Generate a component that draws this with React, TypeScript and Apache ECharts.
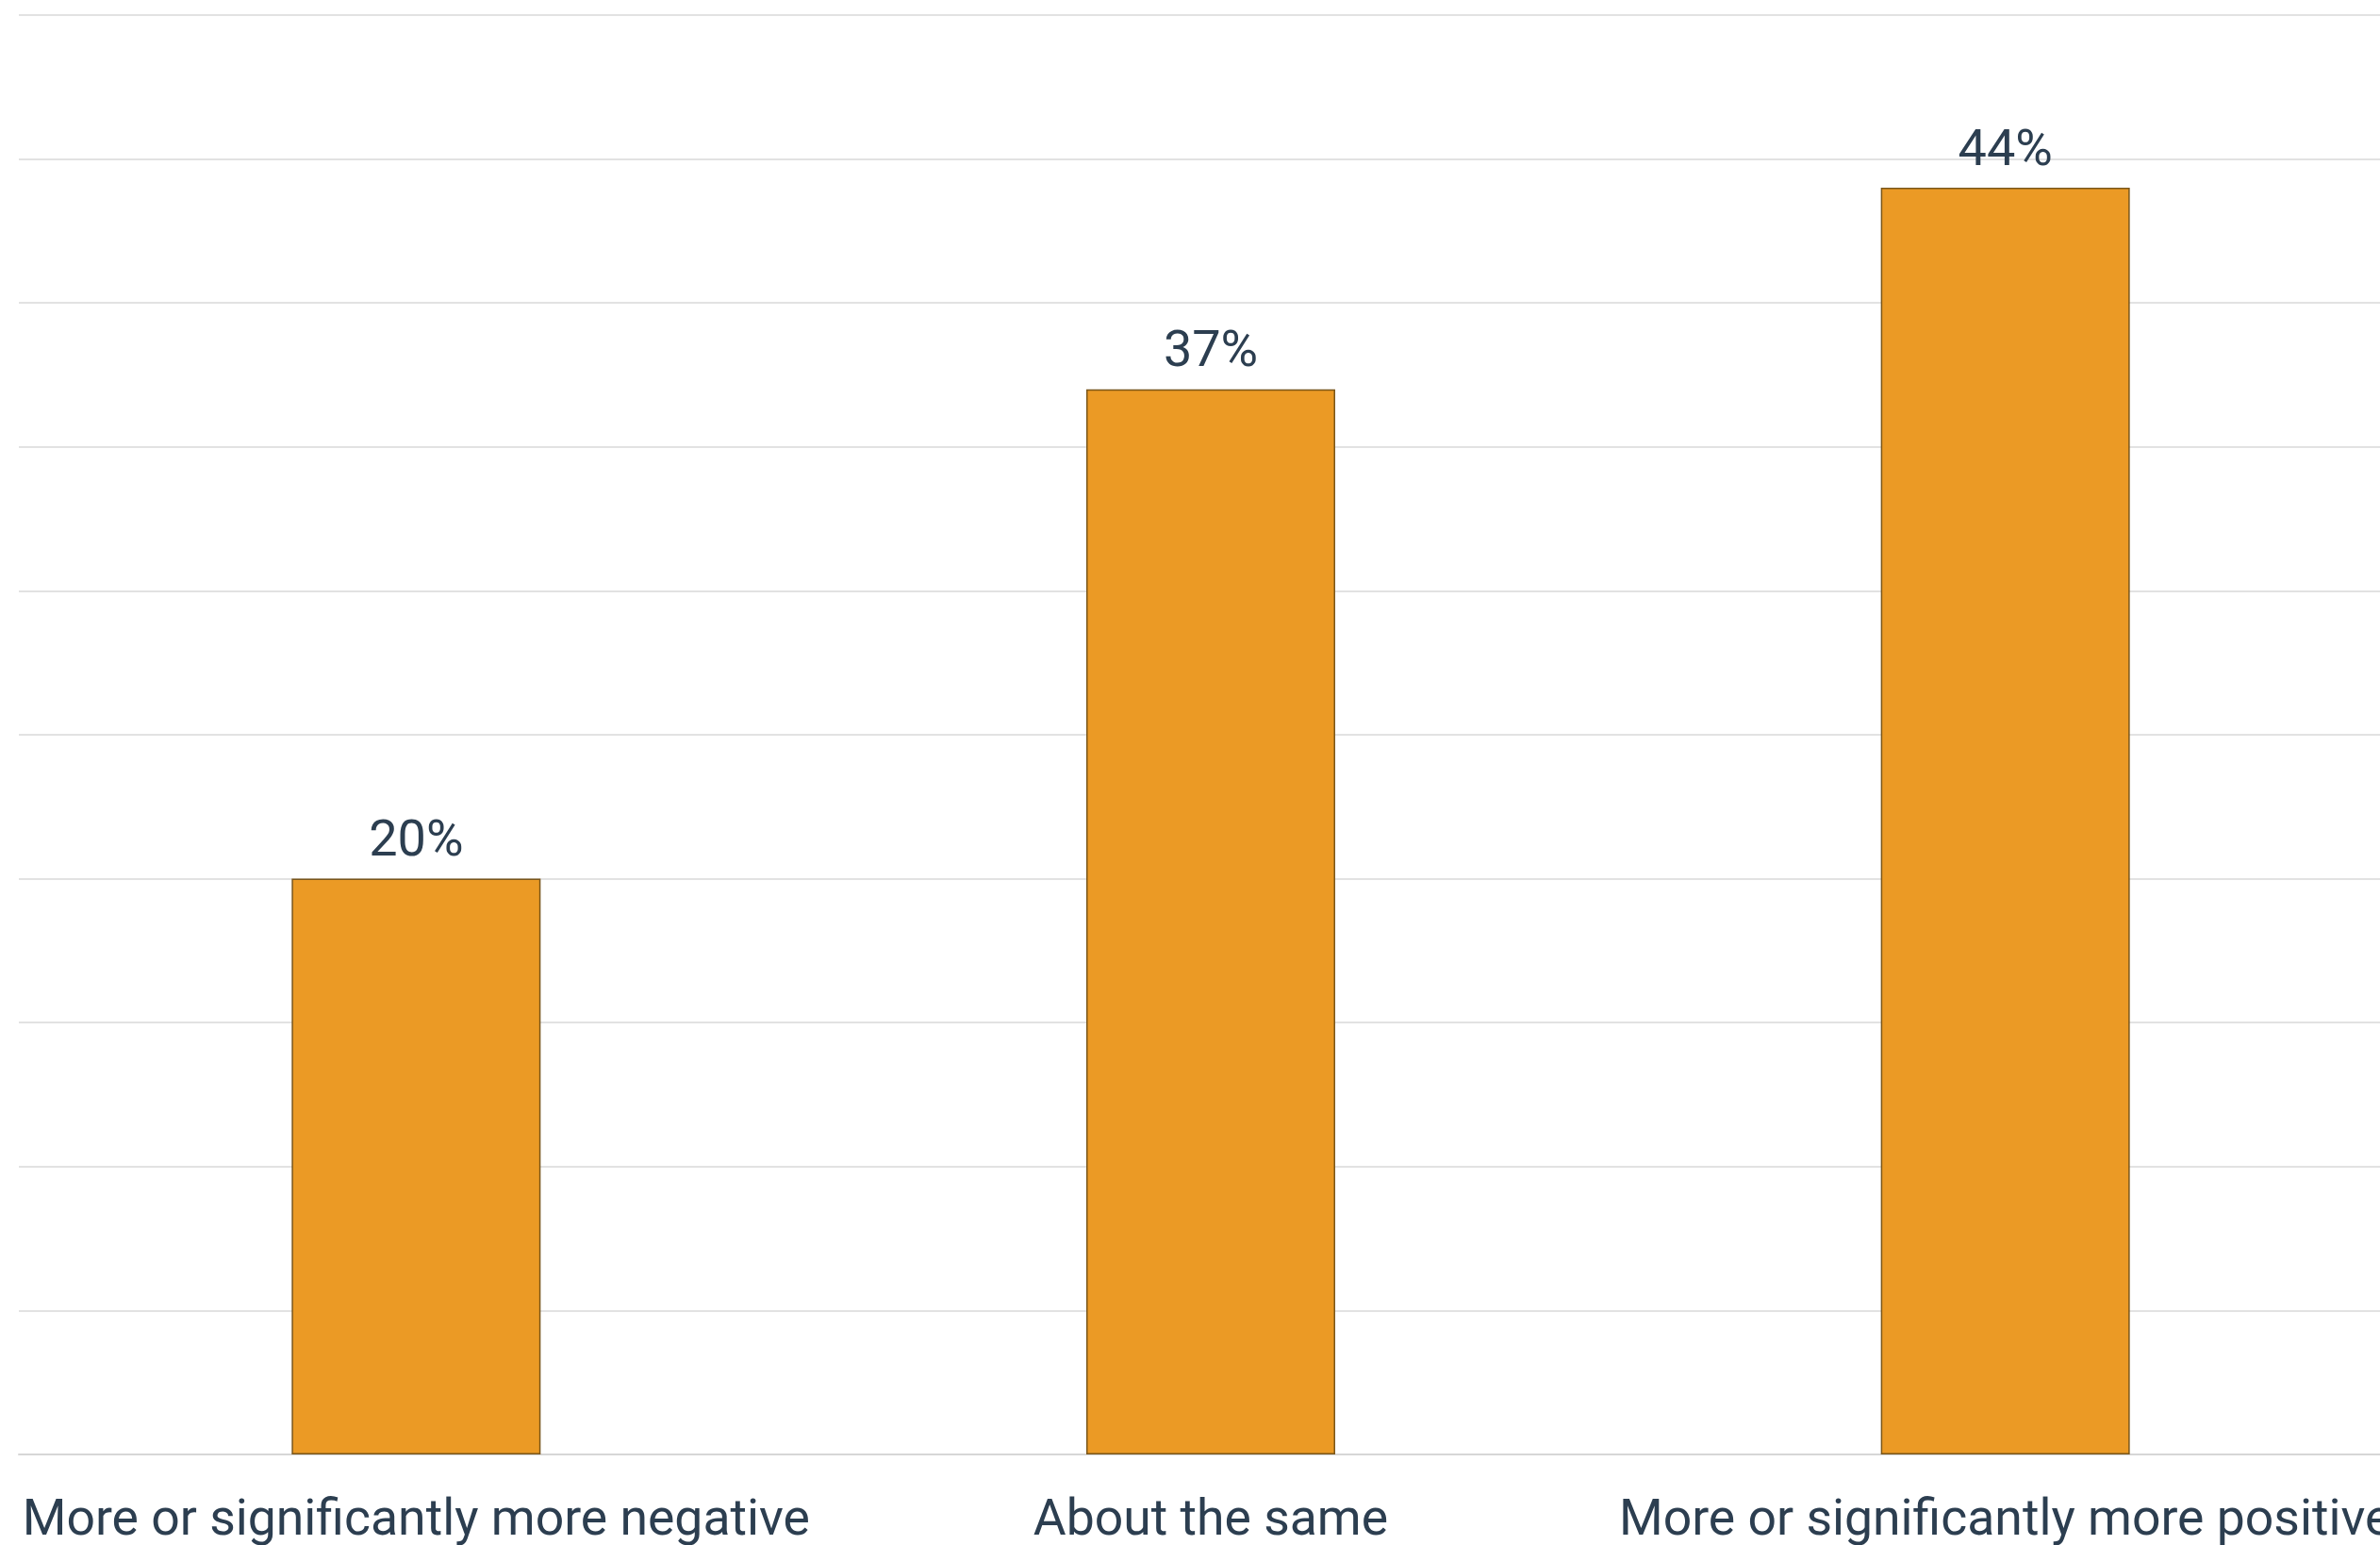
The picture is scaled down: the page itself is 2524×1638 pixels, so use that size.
import React, { useEffect, useRef } from "react";
import * as echarts from "echarts";

// Survey answers and the share of respondents (%) for each
const categories = [
  "More or significantly more negative",
  "About the same",
  "More or significantly more positive",
];
const shares = [20, 37, 44];

const TEXT_COLOR = "#2c3e50";
const BAR_COLOR = "#eb9a25";
const BAR_BORDER = "#7a561a";
const GRID_COLOR = "#e2e2e2";
const FONT = "Roboto";

// The plot runs a little past the right edge of the visible frame
const VIEW_W = 2524;
const VIEW_H = 1638;
const CHART_W = 2560;

export default function App() {
  const ref = useRef<HTMLDivElement>(null);

  useEffect(() => {
    if (!ref.current) return;
    const chart = echarts.init(ref.current, undefined, { renderer: "svg" });
    chart.setOption({
      animation: false,
      backgroundColor: "#ffffff",
      grid: { left: 20, right: 12, top: 16, bottom: 96, containLabel: false },
      xAxis: {
        type: "category",
        data: categories,
        axisTick: { show: false },
        axisLine: { show: true, lineStyle: { color: "#d6d6d6", width: 2 } },
        axisLabel: {
          color: TEXT_COLOR,
          fontFamily: FONT,
          fontSize: 53.5,
          margin: 39,
          interval: 0,
        },
      },
      yAxis: {
        type: "value",
        min: 0,
        max: 50,
        interval: 5,
        axisLabel: { show: false },
        axisLine: { show: false },
        axisTick: { show: false },
        splitLine: { show: true, lineStyle: { color: GRID_COLOR, width: 2 } },
      },
      series: [
        {
          type: "bar",
          data: shares,
          barWidth: 264,
          itemStyle: { color: BAR_COLOR, borderColor: BAR_BORDER, borderWidth: 1.5 },
          label: {
            show: true,
            position: "top",
            distance: 16,
            formatter: "{c}%",
            color: TEXT_COLOR,
            fontFamily: FONT,
            fontSize: 54,
          },
        },
      ],
    });
    return () => chart.dispose();
  }, []);

  return (
    <div
      style={{
        position: "fixed",
        left: 0,
        top: 0,
        width: VIEW_W,
        height: VIEW_H,
        overflow: "hidden",
        background: "#ffffff",
      }}
    >
      <div ref={ref} style={{ width: CHART_W, height: VIEW_H }} />
    </div>
  );
}
